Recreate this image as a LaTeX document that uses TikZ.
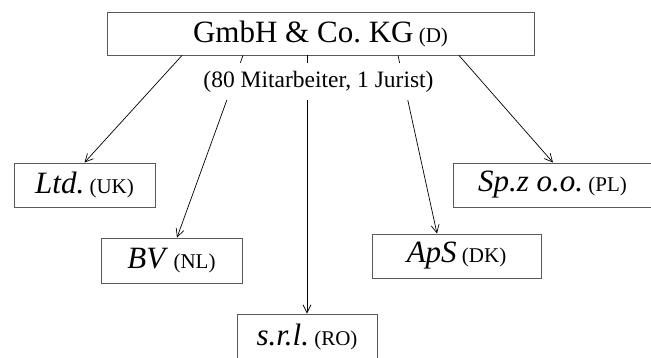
\documentclass[tikz,border=0pt]{standalone}
\usepackage{fontspec}
\setmainfont{Liberation Serif}
\usetikzlibrary{arrows.meta}
\newcommand{\ctry}[1]{{\fontsize{21}{21}\selectfont\ (#1)}}

\begin{document}
\begin{tikzpicture}
  [x=1pt,y=1pt,>={Straight Barb[length=8pt,width=8pt]},
   every node/.style={inner sep=0pt},
   firm/.style={draw=black!65,line width=0.9pt,minimum height=44pt,font=\fontsize{31}{31}\selectfont}]
  \useasboundingbox (0,0) rectangle (651,-358);
  \node[firm,minimum width=427pt,minimum height=43pt] (gmbh) at (320.5,-33.5) {GmbH \& Co.\ KG\ctry{D}};
  \node[firm,minimum width=141pt] (ltd) at (84.5,-185) {\textit{Ltd.}\ctry{UK}};
  \node[firm,minimum width=141pt,minimum height=45pt] (bv) at (171.5,-260.5) {\textit{BV}\ctry{NL}};
  \node[firm,minimum width=140pt,minimum height=45pt] (srl) at (307,-336.5) {\textit{s.r.l.}\ctry{RO}};
  \node[firm,minimum width=169pt] (aps) at (456.5,-256) {\textit{ApS}\ctry{DK}};
  \node[firm,minimum width=199pt] (spz) at (552.5,-185) {\textit{Sp.z o.o.}\ctry{PL}};
  \foreach \dx/\to/\tx in {-138.5/ltd/0,-77.5/bv/5.5,-13.5/srl/0,77.5/aps/-19.5,138.5/spz/0.5}
    \draw[->,line width=0.7pt] ([xshift=\dx pt]gmbh.south) -- ([xshift=\tx pt]\to.north);
  \node[fill=white,inner xsep=2pt,minimum height=37pt,font=\fontsize{23.5}{23.5}\selectfont] (staff) at (318.5,-81.5)
    {(80 Mitarbeiter, 1 Jurist)};
\end{tikzpicture}
\end{document}
